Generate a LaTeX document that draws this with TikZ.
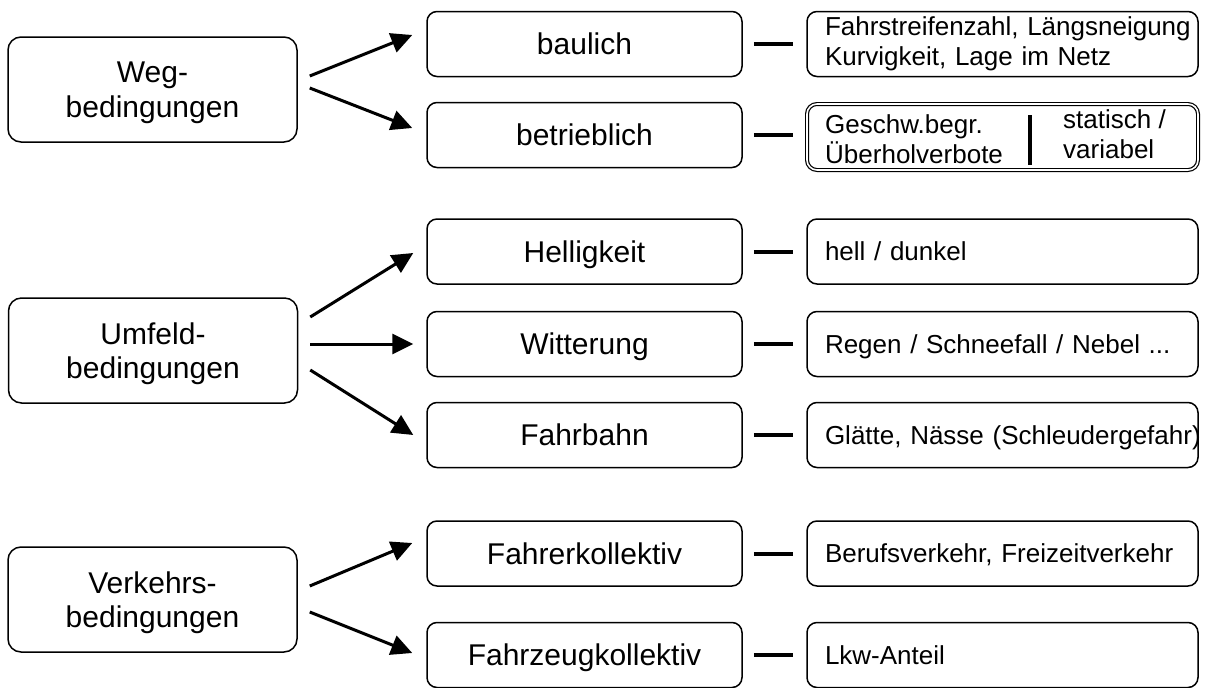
\documentclass[tikz,border=0pt]{standalone}
\usepackage{fontspec}
\setmainfont{Liberation Sans}
\usetikzlibrary{arrows.meta,calc}
\begin{document}
\begin{tikzpicture}[x=1pt,y=-1pt,
 lbox/.style={draw, line width=1.5pt, rounded corners=13pt, minimum width=289pt, minimum height=105pt, align=center, font=\fontsize{30}{34.5}\selectfont, inner sep=0pt, text depth=0pt},
 mbox/.style={draw, line width=1.5pt, rounded corners=10pt, minimum width=315pt, minimum height=65pt, font=\fontsize{30}{34.5}\selectfont, inner sep=0pt, text depth=0pt},
 rbox/.style={draw, line width=1.5pt, rounded corners=10pt, minimum width=391pt, minimum height=65pt, text width=355pt, align=left, font=\fontsize{26}{30}\selectfont, inner xsep=18pt, inner ysep=0pt},
 rone/.style={rbox, text depth=0pt},
 rtext/.style={anchor=base west, inner sep=0pt, font=\fontsize{26}{30}\selectfont},
 arr/.style={line width=3pt, -{Triangle[length=21pt,width=20pt]}},
 link/.style={line width=4pt},
 bar/.style={line width=4pt}]
\useasboundingbox (0,0) rectangle (1205,688);

% left boxes
\node[lbox] (weg) at (152.5,89.5) {Weg-\\bedingungen};
\node[lbox] (umf) at (153,350.5) {Umfeld-\\bedingungen};
\node[lbox] (ver) at (152.5,599.5) {Verkehrs-\\bedingungen};

% middle boxes
\node[mbox] (bau) at (584.5,44) {baulich};
\node[mbox] (bet) at (584.5,135) {betrieblich};
\node[mbox] (hel) at (584.5,251.5) {Helligkeit};
\node[mbox] (wit) at (584.5,344) {Witterung};
\node[mbox] (fbn) at (584.5,435) {Fahrbahn};
\node[mbox] (fko) at (584.5,553.5) {Fahrerkollektiv};
\node[mbox] (fzk) at (584.5,655) {Fahrzeugkollektiv};

% right boxes
\node[rbox] (r1) at (1002.5,44) {\mbox{Fahrstreifenzahl, Längsneigung}\\\mbox{Kurvigkeit, Lage im Netz}};
\node[rbox, line width=1.2pt, double, double distance=1.6pt, minimum width=389pt, minimum height=66pt] (r2) at (1002.5,137) {};
\node[rone] (r3) at (1002.5,251.5) {hell / dunkel};
\node[rone] (r4) at (1002.5,344) {\mbox{Regen / Schneefall / Nebel ...}};
\node[rone] (r5) at (1002.5,435) {\mbox{Glätte, Nässe (Schleudergefahr)}};
\node[rone] (r6) at (1002.5,553.5) {\mbox{Berufsverkehr, Freizeitverkehr}};
\node[rone] (r7) at (1002.5,655) {Lkw-Anteil};

% contents of the double box
\node[rtext] (g1) at (825,133) {Geschw.begr.};
\node[rtext] (g2) at (825,163) {Überholverbote};
\node[rtext] (s1) at (1063,128) {statisch /};
\node[rtext] (s2) at (1063,158) {variabel};
\draw[bar] (1030,115) -- (1030,165);

% arrows
\draw[arr] ($(weg.east)+(12,-13.5)$) -- ($(bau.west)+(-14,-9)$);
\draw[arr] ($(weg.east)+(12,-1.5)$) -- ($(bet.west)+(-14,-7)$);
\draw[arr] ($(umf.east)+(12,-33.5)$) -- ($(hel.west)+(-13,1.5)$);
\draw[arr] ($(umf.east)+(12,-6.5)$) -- ($(wit.west)+(-13,0)$);
\draw[arr] ($(umf.east)+(12,19.5)$) -- ($(fbn.west)+(-13,0)$);
\draw[arr] ($(ver.east)+(12,-13.5)$) -- ($(fko.west)+(-14,-10.5)$);
\draw[arr] ($(ver.east)+(12,12.5)$) -- ($(fzk.west)+(-14,-2)$);

% links
\foreach \m/\r in {bau/r1, bet/r2, hel/r3, wit/r4, fbn/r5, fko/r6, fzk/r7}
  \draw[link] ($(\m.east)+(11,0)$) -- ($(\r.west |- \m.east)+(-13,0)$);
\end{tikzpicture}
\end{document}
